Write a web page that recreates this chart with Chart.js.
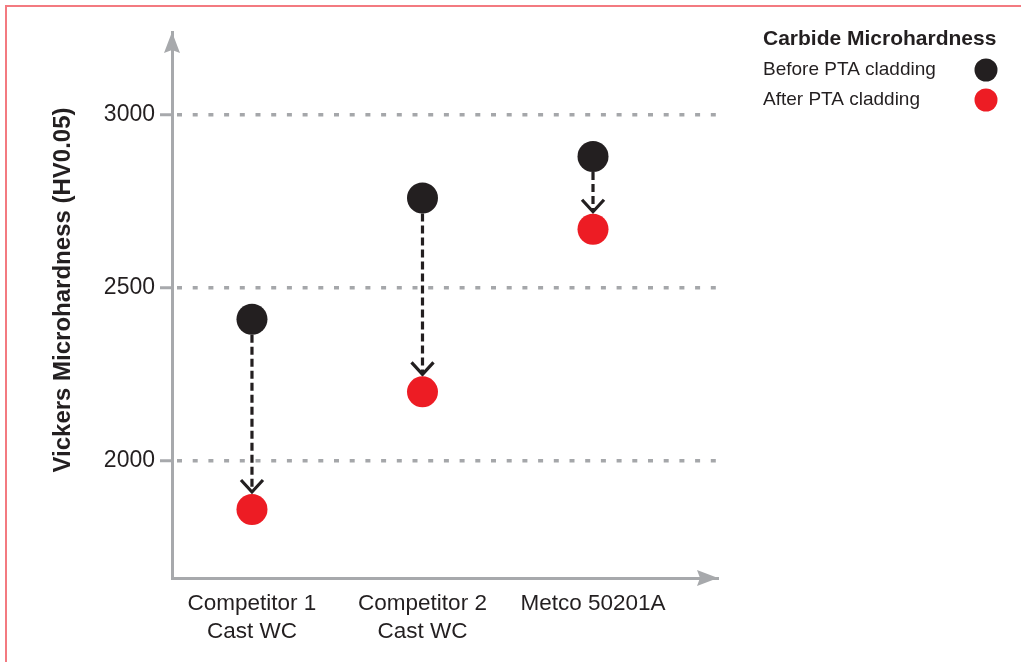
<!DOCTYPE html>
<html>
<head>
<meta charset="utf-8">
<script src="https://cdn.jsdelivr.net/npm/chart.js@4.4.1/dist/chart.umd.min.js"></script>
<style>
  html, body { margin: 0; padding: 0; background: #fff; }
  #wrap { position: relative; width: 1021px; height: 662px; }
  #frame { position: absolute; left: 5px; top: 5px; right: 0; bottom: 0;
           border-left: 2px solid #f37a80; border-top: 2px solid #f37a80; }
  canvas { position: absolute; left: 0; top: 0; }
</style>
</head>
<body>
<div id="wrap">
  <div id="frame"></div>
  <canvas id="hardChart" width="1021" height="662"></canvas>
</div>
<script>
// data
const categories = [['Competitor 1', 'Cast WC'], ['Competitor 2', 'Cast WC'], ['Metco 50201A']];
const beforeValues = [2410, 2760, 2880];
const afterValues = [1860, 2200, 2670];
const yTicks = [2000, 2500, 3000];
const seriesLabels = ['Before PTA cladding', 'After PTA cladding'];
const legendTitle = 'Carbide Microhardness';
const yTitle = 'Vickers Microhardness (HV0.05)';

const INK = '#231f20';
const RED = '#ed1c24';
const AXIS = '#a7a9ac';
const FONT = "'Liberation Sans', Arial, sans-serif";

// arrows between before/after dots, axis arrowheads, legend and y title
const decorPlugin = {
  id: 'decor',
  beforeDatasetsDraw(chart) {
    const ctx = chart.ctx;
    const xs = chart.scales.x, ys = chart.scales.y;
    const r = 15.5;
    ctx.save();
    ctx.strokeStyle = INK;
    ctx.lineWidth = 3.2;
    beforeValues.forEach((b, i) => {
      const x = xs.getPixelForValue(i);
      const y1 = ys.getPixelForValue(b);
      const y2 = ys.getPixelForValue(afterValues[i]);
      const tip = y2 - r - 2;
      ctx.setLineDash([8, 4]);
      ctx.beginPath();
      ctx.moveTo(x, y1 + r);
      ctx.lineTo(x, tip - 1);
      ctx.stroke();
      ctx.setLineDash([]);
      ctx.beginPath();
      ctx.moveTo(x - 11, tip - 12);
      ctx.lineTo(x, tip);
      ctx.lineTo(x + 11, tip - 12);
      ctx.stroke();
    });
    ctx.restore();
  },
  afterDraw(chart) {
    const ctx = chart.ctx;
    const a = chart.chartArea;
    ctx.save();
    // axis arrowheads
    ctx.fillStyle = AXIS;
    ctx.beginPath();
    ctx.moveTo(a.left, a.top);
    ctx.lineTo(a.left - 8, a.top + 21);
    ctx.lineTo(a.left, a.top + 18);
    ctx.lineTo(a.left + 8, a.top + 21);
    ctx.closePath();
    ctx.fill();
    ctx.beginPath();
    ctx.moveTo(a.right, a.bottom);
    ctx.lineTo(a.right - 21, a.bottom - 8);
    ctx.lineTo(a.right - 18, a.bottom);
    ctx.lineTo(a.right - 21, a.bottom + 8);
    ctx.closePath();
    ctx.fill();

    // y title
    ctx.fillStyle = INK;
    ctx.font = 'bold 24px ' + FONT;
    ctx.textAlign = 'center';
    ctx.textBaseline = 'middle';
    ctx.translate(63, 290);
    ctx.rotate(-Math.PI / 2);
    ctx.fillText(yTitle, 0, 0);
    ctx.restore();

    // legend
    ctx.save();
    ctx.fillStyle = INK;
    ctx.textAlign = 'left';
    ctx.textBaseline = 'middle';
    ctx.font = 'bold 21px ' + FONT;
    ctx.fillText(legendTitle, 763, 39);
    ctx.font = '19px ' + FONT;
    chart.data.datasets.forEach((ds, i) => {
      const y = 70 + i * 30;
      ctx.fillStyle = INK;
      ctx.fillText(ds.label, 763, y);
      ctx.fillStyle = ds.backgroundColor;
      ctx.beginPath();
      ctx.arc(986, y, 11.5, 0, Math.PI * 2);
      ctx.fill();
    });
    ctx.restore();
  }
};

new Chart(document.getElementById('hardChart'), {
  type: 'scatter',
  data: {
    datasets: [
      {
        label: seriesLabels[0],
        data: beforeValues.map((v, i) => ({ x: i, y: v })),
        backgroundColor: INK,
        borderWidth: 0,
        pointRadius: 15.5,
        pointHoverRadius: 15.5
      },
      {
        label: seriesLabels[1],
        data: afterValues.map((v, i) => ({ x: i, y: v })),
        backgroundColor: RED,
        borderWidth: 0,
        pointRadius: 15.5,
        pointHoverRadius: 15.5
      }
    ]
  },
  options: {
    responsive: false,
    animation: false,
    layout: { padding: { left: 0, top: 32, right: 303, bottom: 0 } },
    plugins: { legend: { display: false }, tooltip: { enabled: false } },
    scales: {
      x: {
        type: 'linear',
        min: -0.469,
        max: 2.733,
        afterBuildTicks: (s) => { s.ticks = categories.map((c, i) => ({ value: i })); },
        afterFit: (s) => { s.height = 84; },
        grid: { display: true, drawOnChartArea: false, drawTicks: false },
        border: { display: true, color: AXIS, width: 3 },
        ticks: {
          padding: 12,
          maxRotation: 0,
          autoSkip: false,
          color: INK,
          font: { family: FONT, size: 22.5, lineHeight: 1.25 },
          callback: (v) => categories[v]
        }
      },
      y: {
        min: 1662,
        max: 3240,
        afterBuildTicks: (s) => { s.ticks = yTicks.map(v => ({ value: v })); },
        afterFit: (s) => { s.width = 172; },
        grid: {
          color: '#a5a7aa',
          lineWidth: 3.5,
          borderDash: [5, 10.7],
          borderDashOffset: -3,
          tickLength: 12,
          tickColor: AXIS,
          tickWidth: 3,
          tickBorderDash: [20, 0]
        },
        border: { display: true, color: AXIS, width: 3, dash: [5, 10.7], dashOffset: -3 },
        ticks: {
          padding: 5,
          color: INK,
          font: { family: FONT, size: 23 },
          callback: (v) => String(v)
        }
      }
    }
  },
  plugins: [decorPlugin]
});
</script>
</body>
</html>
